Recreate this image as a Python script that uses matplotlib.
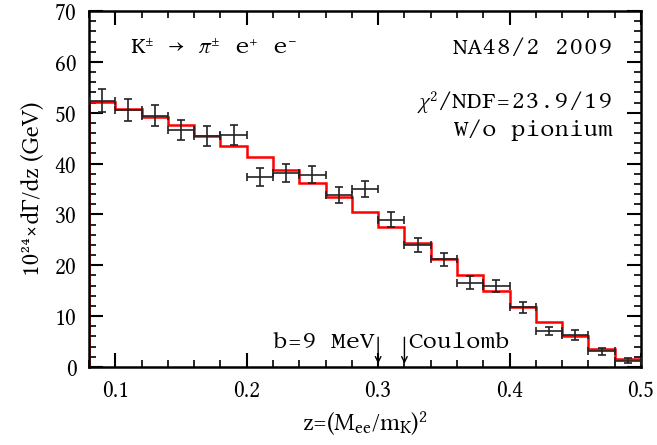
import numpy as np
import matplotlib.pyplot as plt

# bin centres in z and measured dGamma/dz (x 1e24 GeV) with errors
z = [0.09, 0.11, 0.13, 0.15, 0.17, 0.19, 0.21, 0.23, 0.25, 0.27, 0.29,
     0.31, 0.33, 0.35, 0.37, 0.39, 0.41, 0.43, 0.45, 0.47, 0.49]
rate = [52.4, 50.5, 49.4, 46.6, 45.4, 45.6, 37.4, 38.1, 37.8, 33.8, 35.0,
        29.0, 24.0, 21.2, 16.6, 16.0, 11.7, 7.1, 6.3, 3.1, 1.2]
rate_err = [2.3, 2.1, 2.1, 2.0, 2.0, 2.0, 1.8, 1.75, 1.7, 1.6, 1.65,
            1.5, 1.4, 1.3, 1.3, 1.2, 1.05, 0.8, 0.9, 0.65, 0.5]
bin_halfwidth = 0.01

# fit (red histogram)
fit_edges = [0.08, 0.10, 0.12, 0.14, 0.16, 0.18, 0.20, 0.22, 0.24, 0.26, 0.28,
             0.30, 0.32, 0.34, 0.36, 0.38, 0.40, 0.42, 0.44, 0.46, 0.48, 0.50]
fit = [52.2, 50.7, 49.2, 47.6, 45.5, 43.5, 41.2, 38.7, 36.1, 33.4, 30.4,
       27.5, 24.3, 21.2, 18.1, 14.9, 11.8, 8.9, 6.1, 3.5, 1.6]

plt.rcParams['font.family'] = ['Libertinus Serif', 'DejaVu Serif']
plt.rcParams['mathtext.fontset'] = 'custom'
plt.rcParams['mathtext.rm'] = 'Libertinus Serif'
plt.rcParams['mathtext.it'] = 'Libertinus Serif:italic'

fig = plt.figure(figsize=(6.57, 4.45), dpi=100)
ax = fig.add_axes([0.1355, 0.1753, 0.8401, 0.8000])

ax.stairs(fit, fit_edges, color='red', linewidth=1.8, zorder=2)
ax.errorbar(z, rate, yerr=rate_err, xerr=bin_halfwidth, fmt='none',
            ecolor='#222222', elinewidth=1.2, capsize=3, capthick=1.2, zorder=3)

ax.set_xlim(0.08, 0.5)
ax.set_ylim(0, 70)
ax.set_xticks([0.1, 0.2, 0.3, 0.4, 0.5])
ax.set_xticklabels(['0.1', '0.2', '0.3', '0.4', '0.5'])
ax.set_xticks(np.arange(0.08, 0.5, 0.02), minor=True)
ax.set_yticks(np.arange(0, 71, 10))
ax.set_yticks(np.arange(0, 71, 2), minor=True)
ax.tick_params(which='both', direction='in', top=True, right=True, labelsize=17)
ax.tick_params(which='major', length=10, width=1.5)
ax.tick_params(which='minor', length=5, width=1.2)
ax.tick_params(axis='x', pad=9)
ax.tick_params(axis='y', pad=9)
for s in ax.spines.values():
    s.set_linewidth(1.8)

ax.set_xlabel(r'z=(M$_{\rm ee}$/m$_{\rm K}$)$^{2}$', fontsize=18, labelpad=5)
ax.set_ylabel('10²⁴×dΓ/dz (GeV)', fontsize=18, labelpad=7)

mono = dict(family=['Libertinus Mono', 'DejaVu Sans Mono'], fontsize=16.4, va='center')
ax.text(0.111, 62.7, r'K$^{\pm}$ → $\mathit{\pi}^{\pm}$ e$^{+}$ e$^{-}$', **mono)
ax.text(0.478, 62.7, 'NA48/2 2009', ha='right', **mono)
ax.text(0.478, 52.1, r'$\mathit{\chi}^{2}$/NDF=23.9/19', ha='right', **mono)
ax.text(0.478, 46.6, 'W/o pionium', ha='right', **mono)

ax.text(0.297, 4.8, 'b=9 MeV', ha='right', **mono)
ax.text(0.323, 4.8, 'Coulomb', ha='left', **mono)
for xa in [0.30, 0.32]:
    ax.annotate('', xy=(xa, 0.1), xytext=(xa, 6.4),
                arrowprops=dict(arrowstyle='->', color='black', lw=1.0))

fig.savefig('out.png', dpi=100)
